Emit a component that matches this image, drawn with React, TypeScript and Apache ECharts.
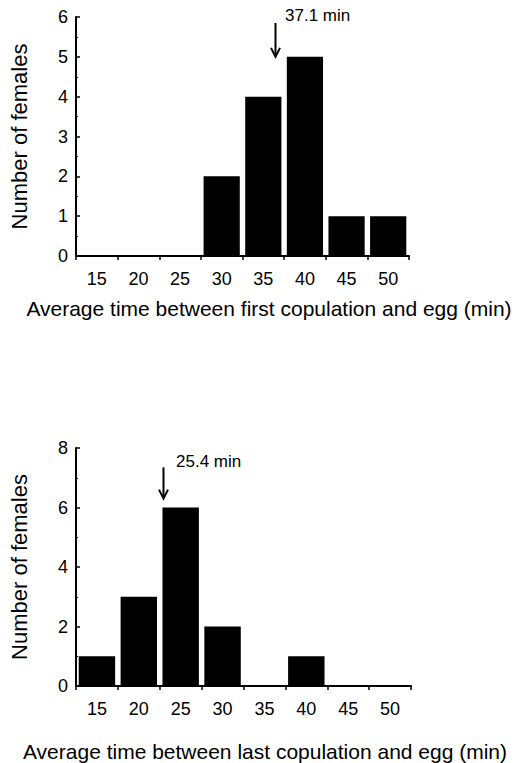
import React, { useEffect, useRef } from "react";
import * as echarts from "echarts";

const binLabels = ["15", "20", "25", "30", "35", "40", "45", "50"];
const firstCopulationCounts = [0, 0, 0, 2, 4, 5, 1, 1];
const lastCopulationCounts = [1, 3, 6, 2, 0, 1, 0, 0];
const topYTicksMax = 6;
const bottomYTicksMax = 8;
const topMeanLabel = "37.1 min";
const bottomMeanLabel = "25.4 min";
// arrow positions in category-index units (centre of first bar = 0)
const topArrowIndex = 4.29;
const bottomArrowIndex = 1.58;

const FONT = "'Liberation Sans', Arial, Helvetica, sans-serif";

const G1 = { left: 75, top: 17, width: 334, height: 239 };
const G2 = { left: 76, top: 448, width: 335, height: 238 };

function xAt(g: typeof G1, idx: number) {
  return g.left + ((idx + 0.5) * g.width) / binLabels.length;
}
function yAt(g: typeof G1, v: number, max: number) {
  return g.top + (1 - v / max) * g.height;
}

function arrow(g: typeof G1, idx: number, vTop: number, vTip: number, max: number) {
  const x = Math.round(xAt(g, idx)) + 0.5;
  const y1 = yAt(g, vTop, max);
  const y2 = yAt(g, vTip, max);
  return [
    { type: "line", shape: { x1: x, y1, x2: x, y2: y2 - 1 }, style: { stroke: "#000", lineWidth: 2 } },
    {
      type: "polyline",
      shape: { points: [[x - 4.5, y2 - 9], [x, y2], [x + 4.5, y2 - 9]] },
      style: { stroke: "#000", lineWidth: 2, fill: null },
    },
  ];
}

export default function App() {
  const ref = useRef<HTMLDivElement>(null);
  useEffect(() => {
    const chart = echarts.init(ref.current!, null, { renderer: "svg" });
    const xAxisBase = (gridIndex: number) => ({
      type: "category",
      gridIndex,
      data: binLabels,
      boundaryGap: true,
      axisLine: { show: true, lineStyle: { color: "#000", width: 2 } },
      axisTick: { show: true, inside: false, length: 4, lineStyle: { color: "#000", width: 1.5 } },
      axisLabel: { color: "#000", fontSize: 18, margin: 14, fontFamily: FONT },
      splitLine: { show: false },
    });
    const yAxisBase = (gridIndex: number, max: number, interval: number) => ({
      type: "value",
      gridIndex,
      min: 0,
      max,
      interval,
      name: "Number of females",
      nameLocation: "middle",
      nameRotate: 90,
      nameGap: 46,
      nameTextStyle: { color: "#000", fontSize: 22, fontFamily: FONT },
      axisLine: { show: true, lineStyle: { color: "#000", width: 2 } },
      axisTick: { show: true, inside: true, length: 4, lineStyle: { color: "#000", width: 1.5 } },
      minorTick: { show: true, splitNumber: 2, length: 2, lineStyle: { color: "#000", width: 1 } },
      axisLabel: { color: "#000", fontSize: 18, margin: 8, fontFamily: FONT },
      splitLine: { show: false },
    });
    chart.setOption({
      animation: false,
      backgroundColor: "#fff",
      textStyle: { fontFamily: FONT },
      grid: [
        { ...G1, containLabel: false },
        { ...G2, containLabel: false },
      ],
      xAxis: [xAxisBase(0), xAxisBase(1)],
      yAxis: [yAxisBase(0, topYTicksMax, 1), yAxisBase(1, bottomYTicksMax, 2)],
      series: [
        {
          type: "bar",
          xAxisIndex: 0,
          yAxisIndex: 0,
          data: firstCopulationCounts,
          barCategoryGap: "13%",
          itemStyle: { color: "#000" },
        },
        {
          type: "bar",
          xAxisIndex: 1,
          yAxisIndex: 1,
          data: lastCopulationCounts,
          barCategoryGap: "13%",
          itemStyle: { color: "#000" },
        },
      ],
      graphic: [
        ...arrow(G1, topArrowIndex, 5.85, 5.0, topYTicksMax),
        ...arrow(G2, bottomArrowIndex, 7.35, 6.3, bottomYTicksMax),
        {
          type: "text",
          x: 285,
          y: yAt(G1, 6.05, topYTicksMax),
          style: { text: topMeanLabel, fill: "#000", fontSize: 17, fontFamily: FONT, textVerticalAlign: "middle" },
        },
        {
          type: "text",
          x: 176,
          y: yAt(G2, 7.55, bottomYTicksMax),
          style: { text: bottomMeanLabel, fill: "#000", fontSize: 17, fontFamily: FONT, textVerticalAlign: "middle" },
        },
        {
          type: "text",
          x: 269,
          y: 308,
          style: {
            text: "Average time between first copulation and egg (min)",
            fill: "#000",
            fontSize: 21,
            fontFamily: FONT,
            textAlign: "center",
            textVerticalAlign: "middle",
          },
        },
        {
          type: "text",
          x: 265,
          y: 751,
          style: {
            text: "Average time between last copulation and egg (min)",
            fill: "#000",
            fontSize: 21,
            fontFamily: FONT,
            textAlign: "center",
            textVerticalAlign: "middle",
          },
        },
      ],
    });
    return () => chart.dispose();
  }, []);
  return <div ref={ref} style={{ position: "absolute", left: 0, top: 0, width: 516, height: 763 }} />;
}
